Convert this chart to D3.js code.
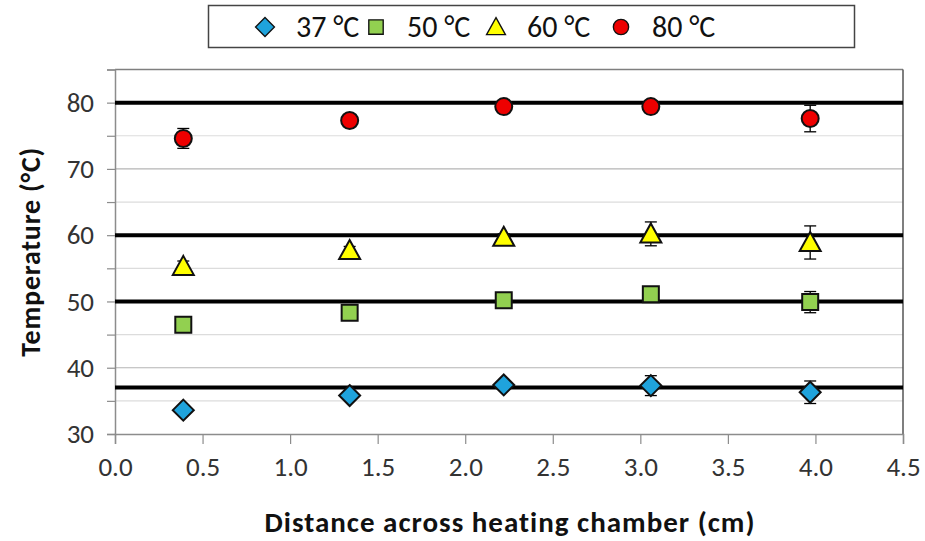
<!DOCTYPE html>
<html>
<head>
<meta charset="utf-8">
<script src="https://cdn.jsdelivr.net/npm/d3@7"></script>
<style>
  html, body { margin: 0; padding: 0; background: #fff; }
  svg { display: block; font-family: Carlito, Calibri, Lato, "Open Sans", sans-serif; }
</style>
</head>
<body>
<svg id="chart" width="925" height="541"></svg>
<script>
// Measured positions across the chamber (cm)
const distances = [0.39, 1.34, 2.22, 3.06, 3.97];

// Set-point temperatures (°C), drawn as thick reference lines
const setPoints = [37, 50, 60, 80];
const seriesLabels = ["37 °C", "50 °C", "60 °C", "80 °C"];

// Mean measured temperature at each position, one array per set point
const temp37 = [33.6, 35.8, 37.4, 37.3, 36.3];
const temp50 = [46.5, 48.3, 50.2, 51.1, 49.9];
const temp60 = [55.3, 57.7, 59.7, 60.2, 58.9];
const temp80 = [74.6, 77.3, 79.4, 79.4, 77.6];

// Standard deviations
const err37 = [0.4, 0.4, 0.5, 1.5, 1.7];
const err50 = [0.5, 0.5, 0.5, 0.4, 1.6];
const err60 = [0.8, 0.6, 0.5, 1.8, 2.5];
const err80 = [1.5, 0.4, 0.4, 0.4, 2.0];

const xTicks = [0, 0.5, 1, 1.5, 2, 2.5, 3, 3.5, 4, 4.5];
const yTicks = [30, 40, 50, 60, 70, 80];
const yMinorTicks = [35, 45, 55, 65, 75, 85];

const series = [
  { label: seriesLabels[0], values: temp37, errors: err37, shape: "diamond",  fill: "#1fa3dc" },
  { label: seriesLabels[1], values: temp50, errors: err50, shape: "square",   fill: "#92d050" },
  { label: seriesLabels[2], values: temp60, errors: err60, shape: "triangle", fill: "#ffff00" },
  { label: seriesLabels[3], values: temp80, errors: err80, shape: "circle",   fill: "#ee0000" }
];

const svg = d3.select("#chart");
const margin = { left: 115, right: 22, top: 69.5, bottom: 107 };
const W = 925, H = 541;
const FONT = "Carlito, Calibri, Lato, sans-serif";

const x = d3.scaleLinear().domain([0, 4.5]).range([margin.left, W - margin.right]);
const y = d3.scaleLinear().domain([30, 85]).range([H - margin.bottom, margin.top]);

// Marker outline centred on (0,0)
function markerPath(shape) {
  if (shape === "diamond") {
    const r = 10.5;
    return `M0,${-r}L${r},0L0,${r}L${-r},0Z`;
  }
  if (shape === "square") {
    const s = 8;
    return `M${-s},${-s}H${s}V${s}H${-s}Z`;
  }
  if (shape === "triangle") {
    const w = 10.5, h = 19;
    return `M0,${-h * 0.55}L${w},${h * 0.45}L${-w},${h * 0.45}Z`;
  }
  return d3.arc()({ innerRadius: 0, outerRadius: 8.5, startAngle: 0, endAngle: 2 * Math.PI });
}

// Gridlines
const grid = svg.append("g");
grid.selectAll("line.minor").data(yMinorTicks.filter(v => v < 85)).join("line")
  .attr("x1", x(0)).attr("x2", x(4.5))
  .attr("y1", d => y(d)).attr("y2", d => y(d))
  .attr("stroke", "#dcdcdc").attr("stroke-width", 1.2);
grid.selectAll("line.major").data(yTicks.filter(v => v > 30)).join("line")
  .attr("x1", x(0)).attr("x2", x(4.5))
  .attr("y1", d => y(d)).attr("y2", d => y(d))
  .attr("stroke", "#b5b5b5").attr("stroke-width", 1.2);

// Plot-area border: top and right
svg.append("line").attr("x1", x(0)).attr("x2", x(4.5)).attr("y1", y(85)).attr("y2", y(85))
  .attr("stroke", "#7f7f7f").attr("stroke-width", 1.5);
svg.append("line").attr("x1", x(4.5)).attr("x2", x(4.5)).attr("y1", y(85)).attr("y2", y(30))
  .attr("stroke", "#555").attr("stroke-width", 1.5);

// Axes
const yAxis = d3.axisLeft(y).tickValues(d3.range(30, 86, 5)).tickSize(8).tickPadding(13)
  .tickFormat(d => d % 10 === 0 && d <= 80 ? d : "");
const gy = svg.append("g").attr("transform", `translate(${x(0)},0)`).call(yAxis);
gy.attr("font-size", null).attr("font-family", null);
gy.select(".domain").attr("stroke", "#8c8c8c").attr("stroke-width", 1.5);
gy.selectAll(".tick line").attr("stroke", "#8c8c8c").attr("stroke-width", 1.2);
gy.selectAll(".tick text").style("font-size", "27px").style("font-family", FONT).attr("fill", "#333");

const xAxis = d3.axisBottom(x).tickValues(xTicks).tickSize(10).tickPadding(13)
  .tickFormat(d3.format(".1f"));
const gx = svg.append("g").attr("transform", `translate(0,${y(30)})`).call(xAxis);
gx.attr("font-size", null).attr("font-family", null);
gx.select(".domain").attr("stroke", "#8c8c8c").attr("stroke-width", 1.5);
gx.selectAll(".tick line").attr("stroke", "#8c8c8c").attr("stroke-width", 1.2);
gx.selectAll(".tick text").style("font-size", "27px").style("font-family", FONT).attr("fill", "#333");

// Set-point reference lines
svg.append("g").selectAll("line").data(setPoints).join("line")
  .attr("x1", x(0)).attr("x2", x(4.5))
  .attr("y1", d => y(d)).attr("y2", d => y(d))
  .attr("stroke", "#000").attr("stroke-width", 4);

// Error bars and markers
series.forEach(s => {
  const g = svg.append("g");
  const pts = distances.map((d, i) => ({ d, v: s.values[i], e: s.errors[i] }));
  const eb = g.selectAll("g.err").data(pts).join("g");
  eb.append("line")
    .attr("x1", p => x(p.d)).attr("x2", p => x(p.d))
    .attr("y1", p => y(p.v - p.e)).attr("y2", p => y(p.v + p.e))
    .attr("stroke", "#000").attr("stroke-width", 1.3);
  [-1, 1].forEach(sign => {
    eb.append("line")
      .attr("x1", p => x(p.d) - 6).attr("x2", p => x(p.d) + 6)
      .attr("y1", p => y(p.v + sign * p.e)).attr("y2", p => y(p.v + sign * p.e))
      .attr("stroke", "#000").attr("stroke-width", 1.3);
  });
  g.selectAll("path.m").data(pts).join("path")
    .attr("d", markerPath(s.shape))
    .attr("transform", p => `translate(${x(p.d)},${y(p.v)})`)
    .attr("fill", s.fill).attr("stroke", "#111").attr("stroke-width", 2);
});

// Legend
const legend = svg.append("g");
legend.append("rect").attr("x", 208.5).attr("y", 5.5).attr("width", 646).attr("height", 42)
  .attr("fill", "#fff").attr("stroke", "#444").attr("stroke-width", 1.5);
const legendX = [265, 376, 496, 621];
series.forEach((s, i) => {
  const cx = legendX[i], cy = 27;
  legend.append("path")
    .attr("d", markerPath(s.shape))
    .attr("transform", `translate(${cx},${cy}) scale(0.9)`)
    .attr("fill", s.fill).attr("stroke", "#111").attr("stroke-width", 1.5);
  legend.append("text").attr("x", cx + 31).attr("y", cy + 10)
    .attr("font-size", 30).attr("fill", "#111").attr("font-family", FONT).text(s.label);
});

// Axis titles
svg.append("text").attr("x", 510).attr("y", 532)
  .attr("text-anchor", "middle").attr("font-size", 29).attr("font-weight", "bold")
  .attr("letter-spacing", 1).attr("fill", "#111").attr("font-family", FONT)
  .text("Distance across heating chamber (cm)");
svg.append("text")
  .attr("transform", `translate(40,${(y(30) + y(85)) / 2}) rotate(-90)`)
  .attr("text-anchor", "middle").attr("font-size", 28).attr("font-weight", "bold")
  .attr("letter-spacing", 0.8).attr("fill", "#111").attr("font-family", FONT)
  .text("Temperature (°C)");
</script>
</body>
</html>
